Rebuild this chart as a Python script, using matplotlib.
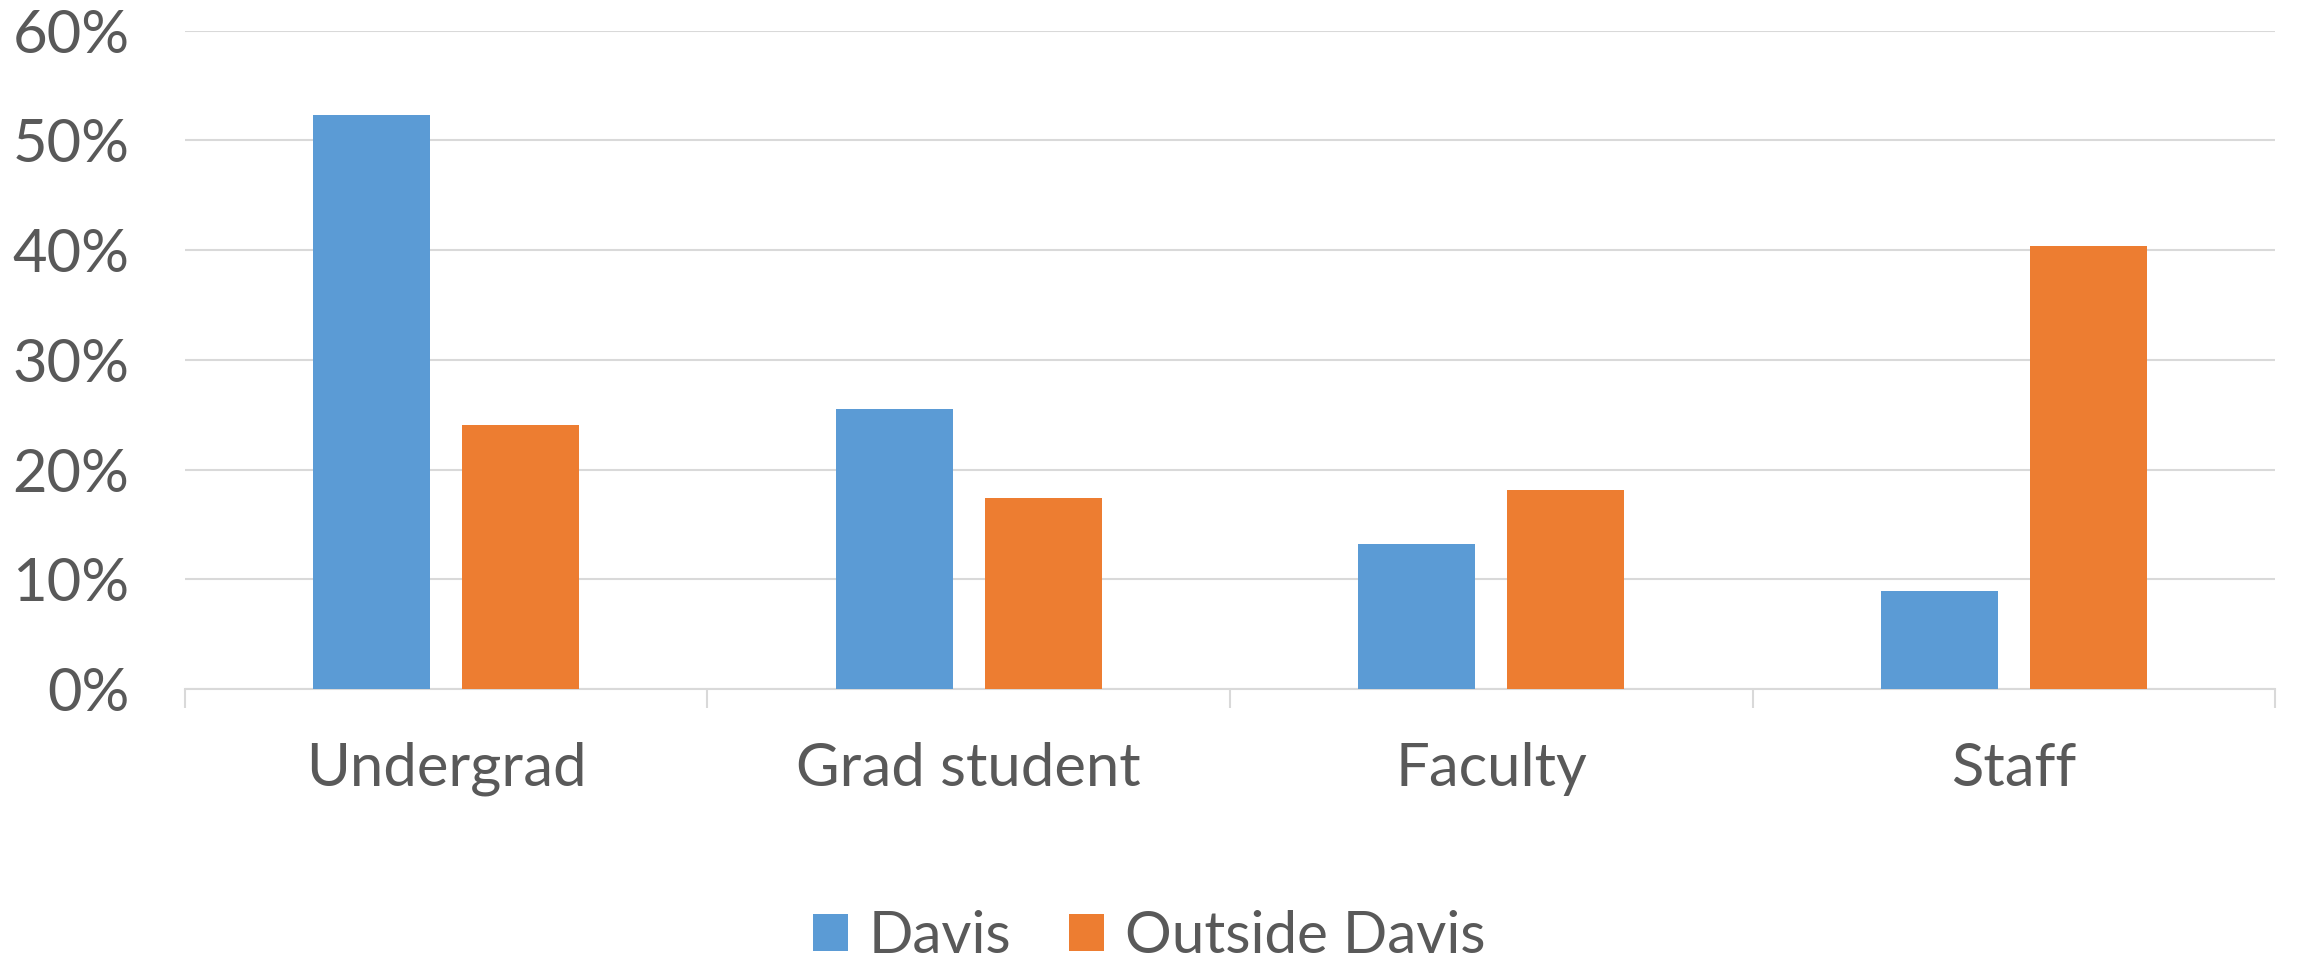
import matplotlib
matplotlib.use("Agg")
import matplotlib.pyplot as plt
import numpy as np
from matplotlib.patches import Patch

categories = ["Undergrad", "Grad student", "Faculty", "Staff"]
series_names = ["Davis", "Outside Davis"]
davis = [52.3, 25.5, 13.2, 8.95]
outside = [24.05, 17.4, 18.15, 40.35]
yticks = [0, 10, 20, 30, 40, 50, 60]
ytick_labels = ["0%", "10%", "20%", "30%", "40%", "50%", "60%"]

c_blue = "#5B9BD5"
c_orange = "#ED7D31"
txt = "#595959"

plt.rcParams['font.family'] = ['Lato', 'DejaVu Sans']

fig = plt.figure(figsize=(22.98, 9.6), dpi=100)
ax = fig.add_axes([0.0805, 0.2823, 0.9095, 0.6857])

x = np.arange(len(categories))
bw = 0.224
off = (bw + 0.062) / 2
ax.bar(x - off, davis, width=bw, color=c_blue, zorder=3)
ax.bar(x + off, outside, width=bw, color=c_orange, zorder=3)

ax.set_xlim(-0.5, len(categories) - 0.5)
ax.set_ylim(0, 60)
ax.set_yticks(yticks)
ax.set_yticklabels(ytick_labels)
ax.yaxis.grid(True, color="#d9d9d9", linewidth=1.5, zorder=0)
ax.set_axisbelow(True)

for s in ["top", "right", "left"]:
    ax.spines[s].set_visible(False)
ax.spines["bottom"].set_color("#d9d9d9")
ax.spines["bottom"].set_linewidth(1.5)

ax.set_xticks(x)
ax.set_xticklabels(categories)
ax.set_xticks(np.arange(-0.5, len(categories), 1.0), minor=True)
ax.tick_params(axis="x", which="major", length=0, pad=38, labelsize=43, labelcolor=txt)
ax.tick_params(axis="x", which="minor", length=14, width=1.5, color="#d9d9d9", direction="out")
ax.tick_params(axis="y", length=0, pad=40, labelsize=43, labelcolor=txt)

handles = [Patch(facecolor=c_blue, label=series_names[0]),
           Patch(facecolor=c_orange, label=series_names[1])]
leg = fig.legend(handles=handles, loc="center", bbox_to_anchor=(0.5, 0.024),
                 ncol=2, frameon=False, fontsize=42, handlelength=0.6, handleheight=0.6,
                 handletextpad=0.35, columnspacing=1.0)
for t in leg.get_texts():
    t.set_color(txt)

fig.savefig("out.png", dpi=100)
